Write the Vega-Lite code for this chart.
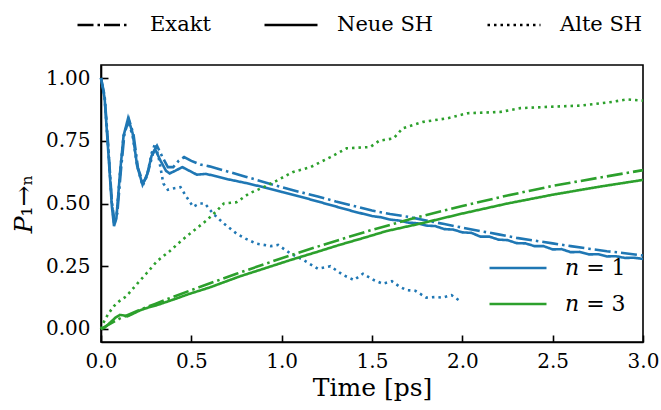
{
  "$schema": "https://vega.github.io/schema/vega-lite/v6.json",
  "width": 542,
  "height": 277,
  "autosize": {"type": "none"},
  "padding": {"left": 101, "top": 65, "right": 18, "bottom": 68},
  "background": "white",
  "config": {
    "font": "DejaVu Serif",
    "view": {"stroke": "black", "strokeWidth": 1.6},
    "axis": {"domainColor": "black", "domainWidth": 1.6, "tickColor": "black", "tickWidth": 1.6, "grid": false, "labelColor": "black", "titleColor": "black", "labelFont": "DejaVu Serif", "titleFont": "DejaVu Serif", "labelFontSize": 20, "titleFontSize": 25, "titleFontWeight": "normal"},
    "legend": {"labelFont": "DejaVu Serif", "labelColor": "black"}
  },
  "datasets": {
    "d": [
      {"t": 0, "P": 1.0, "n": "n = 1", "m": "Exakt"},
      {"t": 0.02, "P": 0.93, "n": "n = 1", "m": "Exakt"},
      {"t": 0.04, "P": 0.73, "n": "n = 1", "m": "Exakt"},
      {"t": 0.06, "P": 0.51, "n": "n = 1", "m": "Exakt"},
      {"t": 0.075, "P": 0.425, "n": "n = 1", "m": "Exakt"},
      {"t": 0.09, "P": 0.46, "n": "n = 1", "m": "Exakt"},
      {"t": 0.11, "P": 0.63, "n": "n = 1", "m": "Exakt"},
      {"t": 0.13, "P": 0.78, "n": "n = 1", "m": "Exakt"},
      {"t": 0.155, "P": 0.835, "n": "n = 1", "m": "Exakt"},
      {"t": 0.18, "P": 0.775, "n": "n = 1", "m": "Exakt"},
      {"t": 0.205, "P": 0.64, "n": "n = 1", "m": "Exakt"},
      {"t": 0.235, "P": 0.58, "n": "n = 1", "m": "Exakt"},
      {"t": 0.26, "P": 0.625, "n": "n = 1", "m": "Exakt"},
      {"t": 0.29, "P": 0.705, "n": "n = 1", "m": "Exakt"},
      {"t": 0.31, "P": 0.73, "n": "n = 1", "m": "Exakt"},
      {"t": 0.34, "P": 0.685, "n": "n = 1", "m": "Exakt"},
      {"t": 0.37, "P": 0.645, "n": "n = 1", "m": "Exakt"},
      {"t": 0.40, "P": 0.645, "n": "n = 1", "m": "Exakt"},
      {"t": 0.43, "P": 0.67, "n": "n = 1", "m": "Exakt"},
      {"t": 0.46, "P": 0.685, "n": "n = 1", "m": "Exakt"},
      {"t": 0.50, "P": 0.67, "n": "n = 1", "m": "Exakt"},
      {"t": 0.55, "P": 0.655, "n": "n = 1", "m": "Exakt"},
      {"t": 0.60, "P": 0.648, "n": "n = 1", "m": "Exakt"},
      {"t": 0.70, "P": 0.628, "n": "n = 1", "m": "Exakt"},
      {"t": 0.80, "P": 0.607, "n": "n = 1", "m": "Exakt"},
      {"t": 0.90, "P": 0.586, "n": "n = 1", "m": "Exakt"},
      {"t": 1.00, "P": 0.565, "n": "n = 1", "m": "Exakt"},
      {"t": 1.10, "P": 0.546, "n": "n = 1", "m": "Exakt"},
      {"t": 1.20, "P": 0.528, "n": "n = 1", "m": "Exakt"},
      {"t": 1.30, "P": 0.508, "n": "n = 1", "m": "Exakt"},
      {"t": 1.40, "P": 0.49, "n": "n = 1", "m": "Exakt"},
      {"t": 1.50, "P": 0.472, "n": "n = 1", "m": "Exakt"},
      {"t": 1.60, "P": 0.458, "n": "n = 1", "m": "Exakt"},
      {"t": 1.70, "P": 0.447, "n": "n = 1", "m": "Exakt"},
      {"t": 1.80, "P": 0.432, "n": "n = 1", "m": "Exakt"},
      {"t": 1.90, "P": 0.418, "n": "n = 1", "m": "Exakt"},
      {"t": 2.00, "P": 0.404, "n": "n = 1", "m": "Exakt"},
      {"t": 2.10, "P": 0.39, "n": "n = 1", "m": "Exakt"},
      {"t": 2.20, "P": 0.377, "n": "n = 1", "m": "Exakt"},
      {"t": 2.30, "P": 0.363, "n": "n = 1", "m": "Exakt"},
      {"t": 2.40, "P": 0.352, "n": "n = 1", "m": "Exakt"},
      {"t": 2.50, "P": 0.341, "n": "n = 1", "m": "Exakt"},
      {"t": 2.60, "P": 0.33, "n": "n = 1", "m": "Exakt"},
      {"t": 2.70, "P": 0.32, "n": "n = 1", "m": "Exakt"},
      {"t": 2.80, "P": 0.31, "n": "n = 1", "m": "Exakt"},
      {"t": 2.90, "P": 0.302, "n": "n = 1", "m": "Exakt"},
      {"t": 3.00, "P": 0.293, "n": "n = 1", "m": "Exakt"},

      {"t": 0, "P": 1.0, "n": "n = 1", "m": "Neue SH"},
      {"t": 0.02, "P": 0.92, "n": "n = 1", "m": "Neue SH"},
      {"t": 0.04, "P": 0.71, "n": "n = 1", "m": "Neue SH"},
      {"t": 0.06, "P": 0.49, "n": "n = 1", "m": "Neue SH"},
      {"t": 0.072, "P": 0.41, "n": "n = 1", "m": "Neue SH"},
      {"t": 0.085, "P": 0.44, "n": "n = 1", "m": "Neue SH"},
      {"t": 0.105, "P": 0.62, "n": "n = 1", "m": "Neue SH"},
      {"t": 0.125, "P": 0.77, "n": "n = 1", "m": "Neue SH"},
      {"t": 0.15, "P": 0.84, "n": "n = 1", "m": "Neue SH"},
      {"t": 0.175, "P": 0.78, "n": "n = 1", "m": "Neue SH"},
      {"t": 0.20, "P": 0.65, "n": "n = 1", "m": "Neue SH"},
      {"t": 0.23, "P": 0.575, "n": "n = 1", "m": "Neue SH"},
      {"t": 0.255, "P": 0.615, "n": "n = 1", "m": "Neue SH"},
      {"t": 0.28, "P": 0.69, "n": "n = 1", "m": "Neue SH"},
      {"t": 0.30, "P": 0.715, "n": "n = 1", "m": "Neue SH"},
      {"t": 0.33, "P": 0.67, "n": "n = 1", "m": "Neue SH"},
      {"t": 0.36, "P": 0.63, "n": "n = 1", "m": "Neue SH"},
      {"t": 0.38, "P": 0.62, "n": "n = 1", "m": "Neue SH"},
      {"t": 0.41, "P": 0.63, "n": "n = 1", "m": "Neue SH"},
      {"t": 0.45, "P": 0.645, "n": "n = 1", "m": "Neue SH"},
      {"t": 0.49, "P": 0.63, "n": "n = 1", "m": "Neue SH"},
      {"t": 0.53, "P": 0.615, "n": "n = 1", "m": "Neue SH"},
      {"t": 0.58, "P": 0.618, "n": "n = 1", "m": "Neue SH"},
      {"t": 0.63, "P": 0.61, "n": "n = 1", "m": "Neue SH"},
      {"t": 0.70, "P": 0.597, "n": "n = 1", "m": "Neue SH"},
      {"t": 0.80, "P": 0.582, "n": "n = 1", "m": "Neue SH"},
      {"t": 0.90, "P": 0.565, "n": "n = 1", "m": "Neue SH"},
      {"t": 1.00, "P": 0.546, "n": "n = 1", "m": "Neue SH"},
      {"t": 1.10, "P": 0.528, "n": "n = 1", "m": "Neue SH"},
      {"t": 1.20, "P": 0.508, "n": "n = 1", "m": "Neue SH"},
      {"t": 1.30, "P": 0.488, "n": "n = 1", "m": "Neue SH"},
      {"t": 1.40, "P": 0.468, "n": "n = 1", "m": "Neue SH"},
      {"t": 1.50, "P": 0.45, "n": "n = 1", "m": "Neue SH"},
      {"t": 1.55, "P": 0.445, "n": "n = 1", "m": "Neue SH"},
      {"t": 1.60, "P": 0.436, "n": "n = 1", "m": "Neue SH"},
      {"t": 1.65, "P": 0.432, "n": "n = 1", "m": "Neue SH"},
      {"t": 1.70, "P": 0.424, "n": "n = 1", "m": "Neue SH"},
      {"t": 1.75, "P": 0.421, "n": "n = 1", "m": "Neue SH"},
      {"t": 1.80, "P": 0.412, "n": "n = 1", "m": "Neue SH"},
      {"t": 1.85, "P": 0.41, "n": "n = 1", "m": "Neue SH"},
      {"t": 1.90, "P": 0.398, "n": "n = 1", "m": "Neue SH"},
      {"t": 1.95, "P": 0.396, "n": "n = 1", "m": "Neue SH"},
      {"t": 2.00, "P": 0.385, "n": "n = 1", "m": "Neue SH"},
      {"t": 2.05, "P": 0.383, "n": "n = 1", "m": "Neue SH"},
      {"t": 2.10, "P": 0.368, "n": "n = 1", "m": "Neue SH"},
      {"t": 2.15, "P": 0.368, "n": "n = 1", "m": "Neue SH"},
      {"t": 2.20, "P": 0.356, "n": "n = 1", "m": "Neue SH"},
      {"t": 2.25, "P": 0.354, "n": "n = 1", "m": "Neue SH"},
      {"t": 2.30, "P": 0.342, "n": "n = 1", "m": "Neue SH"},
      {"t": 2.35, "P": 0.341, "n": "n = 1", "m": "Neue SH"},
      {"t": 2.40, "P": 0.33, "n": "n = 1", "m": "Neue SH"},
      {"t": 2.45, "P": 0.33, "n": "n = 1", "m": "Neue SH"},
      {"t": 2.50, "P": 0.317, "n": "n = 1", "m": "Neue SH"},
      {"t": 2.55, "P": 0.318, "n": "n = 1", "m": "Neue SH"},
      {"t": 2.60, "P": 0.306, "n": "n = 1", "m": "Neue SH"},
      {"t": 2.65, "P": 0.307, "n": "n = 1", "m": "Neue SH"},
      {"t": 2.70, "P": 0.297, "n": "n = 1", "m": "Neue SH"},
      {"t": 2.75, "P": 0.298, "n": "n = 1", "m": "Neue SH"},
      {"t": 2.80, "P": 0.289, "n": "n = 1", "m": "Neue SH"},
      {"t": 2.85, "P": 0.29, "n": "n = 1", "m": "Neue SH"},
      {"t": 2.90, "P": 0.283, "n": "n = 1", "m": "Neue SH"},
      {"t": 2.95, "P": 0.284, "n": "n = 1", "m": "Neue SH"},
      {"t": 3.00, "P": 0.279, "n": "n = 1", "m": "Neue SH"},

      {"t": 0, "P": 1.0, "n": "n = 1", "m": "Alte SH"},
      {"t": 0.02, "P": 0.92, "n": "n = 1", "m": "Alte SH"},
      {"t": 0.04, "P": 0.72, "n": "n = 1", "m": "Alte SH"},
      {"t": 0.06, "P": 0.50, "n": "n = 1", "m": "Alte SH"},
      {"t": 0.073, "P": 0.42, "n": "n = 1", "m": "Alte SH"},
      {"t": 0.086, "P": 0.45, "n": "n = 1", "m": "Alte SH"},
      {"t": 0.105, "P": 0.62, "n": "n = 1", "m": "Alte SH"},
      {"t": 0.125, "P": 0.77, "n": "n = 1", "m": "Alte SH"},
      {"t": 0.15, "P": 0.83, "n": "n = 1", "m": "Alte SH"},
      {"t": 0.175, "P": 0.77, "n": "n = 1", "m": "Alte SH"},
      {"t": 0.20, "P": 0.65, "n": "n = 1", "m": "Alte SH"},
      {"t": 0.23, "P": 0.57, "n": "n = 1", "m": "Alte SH"},
      {"t": 0.255, "P": 0.61, "n": "n = 1", "m": "Alte SH"},
      {"t": 0.28, "P": 0.70, "n": "n = 1", "m": "Alte SH"},
      {"t": 0.30, "P": 0.74, "n": "n = 1", "m": "Alte SH"},
      {"t": 0.32, "P": 0.68, "n": "n = 1", "m": "Alte SH"},
      {"t": 0.345, "P": 0.58, "n": "n = 1", "m": "Alte SH"},
      {"t": 0.37, "P": 0.555, "n": "n = 1", "m": "Alte SH"},
      {"t": 0.40, "P": 0.56, "n": "n = 1", "m": "Alte SH"},
      {"t": 0.44, "P": 0.565, "n": "n = 1", "m": "Alte SH"},
      {"t": 0.47, "P": 0.53, "n": "n = 1", "m": "Alte SH"},
      {"t": 0.51, "P": 0.487, "n": "n = 1", "m": "Alte SH"},
      {"t": 0.545, "P": 0.50, "n": "n = 1", "m": "Alte SH"},
      {"t": 0.575, "P": 0.50, "n": "n = 1", "m": "Alte SH"},
      {"t": 0.62, "P": 0.46, "n": "n = 1", "m": "Alte SH"},
      {"t": 0.68, "P": 0.42, "n": "n = 1", "m": "Alte SH"},
      {"t": 0.75, "P": 0.38, "n": "n = 1", "m": "Alte SH"},
      {"t": 0.80, "P": 0.36, "n": "n = 1", "m": "Alte SH"},
      {"t": 0.86, "P": 0.34, "n": "n = 1", "m": "Alte SH"},
      {"t": 0.94, "P": 0.33, "n": "n = 1", "m": "Alte SH"},
      {"t": 0.98, "P": 0.335, "n": "n = 1", "m": "Alte SH"},
      {"t": 1.05, "P": 0.30, "n": "n = 1", "m": "Alte SH"},
      {"t": 1.12, "P": 0.275, "n": "n = 1", "m": "Alte SH"},
      {"t": 1.20, "P": 0.24, "n": "n = 1", "m": "Alte SH"},
      {"t": 1.27, "P": 0.25, "n": "n = 1", "m": "Alte SH"},
      {"t": 1.34, "P": 0.215, "n": "n = 1", "m": "Alte SH"},
      {"t": 1.40, "P": 0.195, "n": "n = 1", "m": "Alte SH"},
      {"t": 1.45, "P": 0.22, "n": "n = 1", "m": "Alte SH"},
      {"t": 1.51, "P": 0.195, "n": "n = 1", "m": "Alte SH"},
      {"t": 1.56, "P": 0.18, "n": "n = 1", "m": "Alte SH"},
      {"t": 1.61, "P": 0.19, "n": "n = 1", "m": "Alte SH"},
      {"t": 1.65, "P": 0.17, "n": "n = 1", "m": "Alte SH"},
      {"t": 1.69, "P": 0.155, "n": "n = 1", "m": "Alte SH"},
      {"t": 1.74, "P": 0.152, "n": "n = 1", "m": "Alte SH"},
      {"t": 1.80, "P": 0.125, "n": "n = 1", "m": "Alte SH"},
      {"t": 1.85, "P": 0.127, "n": "n = 1", "m": "Alte SH"},
      {"t": 1.89, "P": 0.125, "n": "n = 1", "m": "Alte SH"},
      {"t": 1.94, "P": 0.135, "n": "n = 1", "m": "Alte SH"},
      {"t": 1.98, "P": 0.115, "n": "n = 1", "m": "Alte SH"},

      {"t": 0, "P": 0.0, "n": "n = 3", "m": "Exakt"},
      {"t": 0.05, "P": 0.02, "n": "n = 3", "m": "Exakt"},
      {"t": 0.10, "P": 0.04, "n": "n = 3", "m": "Exakt"},
      {"t": 0.20, "P": 0.072, "n": "n = 3", "m": "Exakt"},
      {"t": 0.30, "P": 0.10, "n": "n = 3", "m": "Exakt"},
      {"t": 0.40, "P": 0.128, "n": "n = 3", "m": "Exakt"},
      {"t": 0.50, "P": 0.155, "n": "n = 3", "m": "Exakt"},
      {"t": 0.75, "P": 0.22, "n": "n = 3", "m": "Exakt"},
      {"t": 1.00, "P": 0.282, "n": "n = 3", "m": "Exakt"},
      {"t": 1.25, "P": 0.34, "n": "n = 3", "m": "Exakt"},
      {"t": 1.50, "P": 0.395, "n": "n = 3", "m": "Exakt"},
      {"t": 1.75, "P": 0.445, "n": "n = 3", "m": "Exakt"},
      {"t": 2.00, "P": 0.49, "n": "n = 3", "m": "Exakt"},
      {"t": 2.25, "P": 0.532, "n": "n = 3", "m": "Exakt"},
      {"t": 2.50, "P": 0.57, "n": "n = 3", "m": "Exakt"},
      {"t": 2.75, "P": 0.602, "n": "n = 3", "m": "Exakt"},
      {"t": 3.00, "P": 0.633, "n": "n = 3", "m": "Exakt"},

      {"t": 0, "P": 0.0, "n": "n = 3", "m": "Neue SH"},
      {"t": 0.02, "P": 0.005, "n": "n = 3", "m": "Neue SH"},
      {"t": 0.05, "P": 0.025, "n": "n = 3", "m": "Neue SH"},
      {"t": 0.08, "P": 0.045, "n": "n = 3", "m": "Neue SH"},
      {"t": 0.105, "P": 0.056, "n": "n = 3", "m": "Neue SH"},
      {"t": 0.125, "P": 0.054, "n": "n = 3", "m": "Neue SH"},
      {"t": 0.145, "P": 0.05, "n": "n = 3", "m": "Neue SH"},
      {"t": 0.17, "P": 0.058, "n": "n = 3", "m": "Neue SH"},
      {"t": 0.215, "P": 0.074, "n": "n = 3", "m": "Neue SH"},
      {"t": 0.26, "P": 0.085, "n": "n = 3", "m": "Neue SH"},
      {"t": 0.31, "P": 0.095, "n": "n = 3", "m": "Neue SH"},
      {"t": 0.40, "P": 0.117, "n": "n = 3", "m": "Neue SH"},
      {"t": 0.49, "P": 0.14, "n": "n = 3", "m": "Neue SH"},
      {"t": 0.60, "P": 0.165, "n": "n = 3", "m": "Neue SH"},
      {"t": 0.77, "P": 0.21, "n": "n = 3", "m": "Neue SH"},
      {"t": 0.90, "P": 0.24, "n": "n = 3", "m": "Neue SH"},
      {"t": 1.05, "P": 0.275, "n": "n = 3", "m": "Neue SH"},
      {"t": 1.20, "P": 0.308, "n": "n = 3", "m": "Neue SH"},
      {"t": 1.32, "P": 0.335, "n": "n = 3", "m": "Neue SH"},
      {"t": 1.45, "P": 0.362, "n": "n = 3", "m": "Neue SH"},
      {"t": 1.58, "P": 0.39, "n": "n = 3", "m": "Neue SH"},
      {"t": 1.78, "P": 0.422, "n": "n = 3", "m": "Neue SH"},
      {"t": 2.00, "P": 0.46, "n": "n = 3", "m": "Neue SH"},
      {"t": 2.25, "P": 0.50, "n": "n = 3", "m": "Neue SH"},
      {"t": 2.50, "P": 0.535, "n": "n = 3", "m": "Neue SH"},
      {"t": 2.75, "P": 0.566, "n": "n = 3", "m": "Neue SH"},
      {"t": 3.00, "P": 0.594, "n": "n = 3", "m": "Neue SH"},

      {"t": 0, "P": 0.0, "n": "n = 3", "m": "Alte SH"},
      {"t": 0.01, "P": 0.02, "n": "n = 3", "m": "Alte SH"},
      {"t": 0.04, "P": 0.06, "n": "n = 3", "m": "Alte SH"},
      {"t": 0.07, "P": 0.09, "n": "n = 3", "m": "Alte SH"},
      {"t": 0.10, "P": 0.11, "n": "n = 3", "m": "Alte SH"},
      {"t": 0.14, "P": 0.13, "n": "n = 3", "m": "Alte SH"},
      {"t": 0.20, "P": 0.18, "n": "n = 3", "m": "Alte SH"},
      {"t": 0.25, "P": 0.22, "n": "n = 3", "m": "Alte SH"},
      {"t": 0.31, "P": 0.27, "n": "n = 3", "m": "Alte SH"},
      {"t": 0.38, "P": 0.31, "n": "n = 3", "m": "Alte SH"},
      {"t": 0.45, "P": 0.355, "n": "n = 3", "m": "Alte SH"},
      {"t": 0.51, "P": 0.39, "n": "n = 3", "m": "Alte SH"},
      {"t": 0.58, "P": 0.43, "n": "n = 3", "m": "Alte SH"},
      {"t": 0.64, "P": 0.47, "n": "n = 3", "m": "Alte SH"},
      {"t": 0.68, "P": 0.50, "n": "n = 3", "m": "Alte SH"},
      {"t": 0.75, "P": 0.505, "n": "n = 3", "m": "Alte SH"},
      {"t": 0.82, "P": 0.54, "n": "n = 3", "m": "Alte SH"},
      {"t": 0.90, "P": 0.565, "n": "n = 3", "m": "Alte SH"},
      {"t": 0.97, "P": 0.59, "n": "n = 3", "m": "Alte SH"},
      {"t": 1.06, "P": 0.625, "n": "n = 3", "m": "Alte SH"},
      {"t": 1.16, "P": 0.645, "n": "n = 3", "m": "Alte SH"},
      {"t": 1.27, "P": 0.685, "n": "n = 3", "m": "Alte SH"},
      {"t": 1.36, "P": 0.72, "n": "n = 3", "m": "Alte SH"},
      {"t": 1.49, "P": 0.725, "n": "n = 3", "m": "Alte SH"},
      {"t": 1.54, "P": 0.75, "n": "n = 3", "m": "Alte SH"},
      {"t": 1.62, "P": 0.76, "n": "n = 3", "m": "Alte SH"},
      {"t": 1.67, "P": 0.80, "n": "n = 3", "m": "Alte SH"},
      {"t": 1.78, "P": 0.825, "n": "n = 3", "m": "Alte SH"},
      {"t": 1.92, "P": 0.84, "n": "n = 3", "m": "Alte SH"},
      {"t": 2.03, "P": 0.86, "n": "n = 3", "m": "Alte SH"},
      {"t": 2.21, "P": 0.865, "n": "n = 3", "m": "Alte SH"},
      {"t": 2.32, "P": 0.88, "n": "n = 3", "m": "Alte SH"},
      {"t": 2.47, "P": 0.885, "n": "n = 3", "m": "Alte SH"},
      {"t": 2.65, "P": 0.89, "n": "n = 3", "m": "Alte SH"},
      {"t": 2.83, "P": 0.905, "n": "n = 3", "m": "Alte SH"},
      {"t": 2.91, "P": 0.915, "n": "n = 3", "m": "Alte SH"},
      {"t": 3.00, "P": 0.91, "n": "n = 3", "m": "Alte SH"}
    ]
  },
  "data": {"name": "d"},
  "mark": {"type": "line", "strokeWidth": 2.6, "strokeCap": "butt"},
  "encoding": {
    "x": {
      "field": "t", "type": "quantitative",
      "scale": {"domain": [0, 3], "nice": false, "zero": false},
      "axis": {"values": [0, 0.5, 1, 1.5, 2, 2.5, 3], "format": ".1f", "tickSize": -7, "labelPadding": 16, "title": "Time [ps]", "titlePadding": 4, "labelFlush": false}
    },
    "y": {
      "field": "P", "type": "quantitative",
      "scale": {"domain": [-0.052, 1.052], "nice": false, "zero": false},
      "axis": {"values": [0, 0.25, 0.5, 0.75, 1], "format": ".2f", "tickSize": -7, "labelPadding": 18, "title": "𝑃₁→ₙ", "titlePadding": 9, "labelFlush": false}
    },
    "color": {
      "field": "n", "type": "nominal",
      "scale": {"domain": ["n = 1", "n = 3"], "range": ["#1f77b4", "#2ca02c"]},
      "legend": {"title": null, "orient": "none", "legendX": 387, "legendY": 189, "direction": "vertical", "symbolType": "stroke", "symbolSize": 3249, "symbolStrokeWidth": 2.6, "symbolDash": [1, 0], "labelFontSize": 22, "labelOffset": 17, "clipHeight": 28, "rowPadding": 8, "labelExpr": "'𝑛 = ' + slice(datum.label, 4)"}
    },
    "strokeDash": {
      "field": "m", "type": "nominal",
      "scale": {"domain": ["Exakt", "Neue SH", "Alte SH"], "range": [[16, 4, 2.5, 4], [1, 0], [2.5, 4]]},
      "legend": {"title": null, "orient": "none", "legendX": -25, "legendY": -68, "direction": "horizontal", "symbolType": "stroke", "symbolSize": 2809, "symbolStrokeColor": "black", "symbolStrokeWidth": 2.6, "labelFontSize": 21, "labelOffset": 18, "columnPadding": 48}
    }
  }
}
